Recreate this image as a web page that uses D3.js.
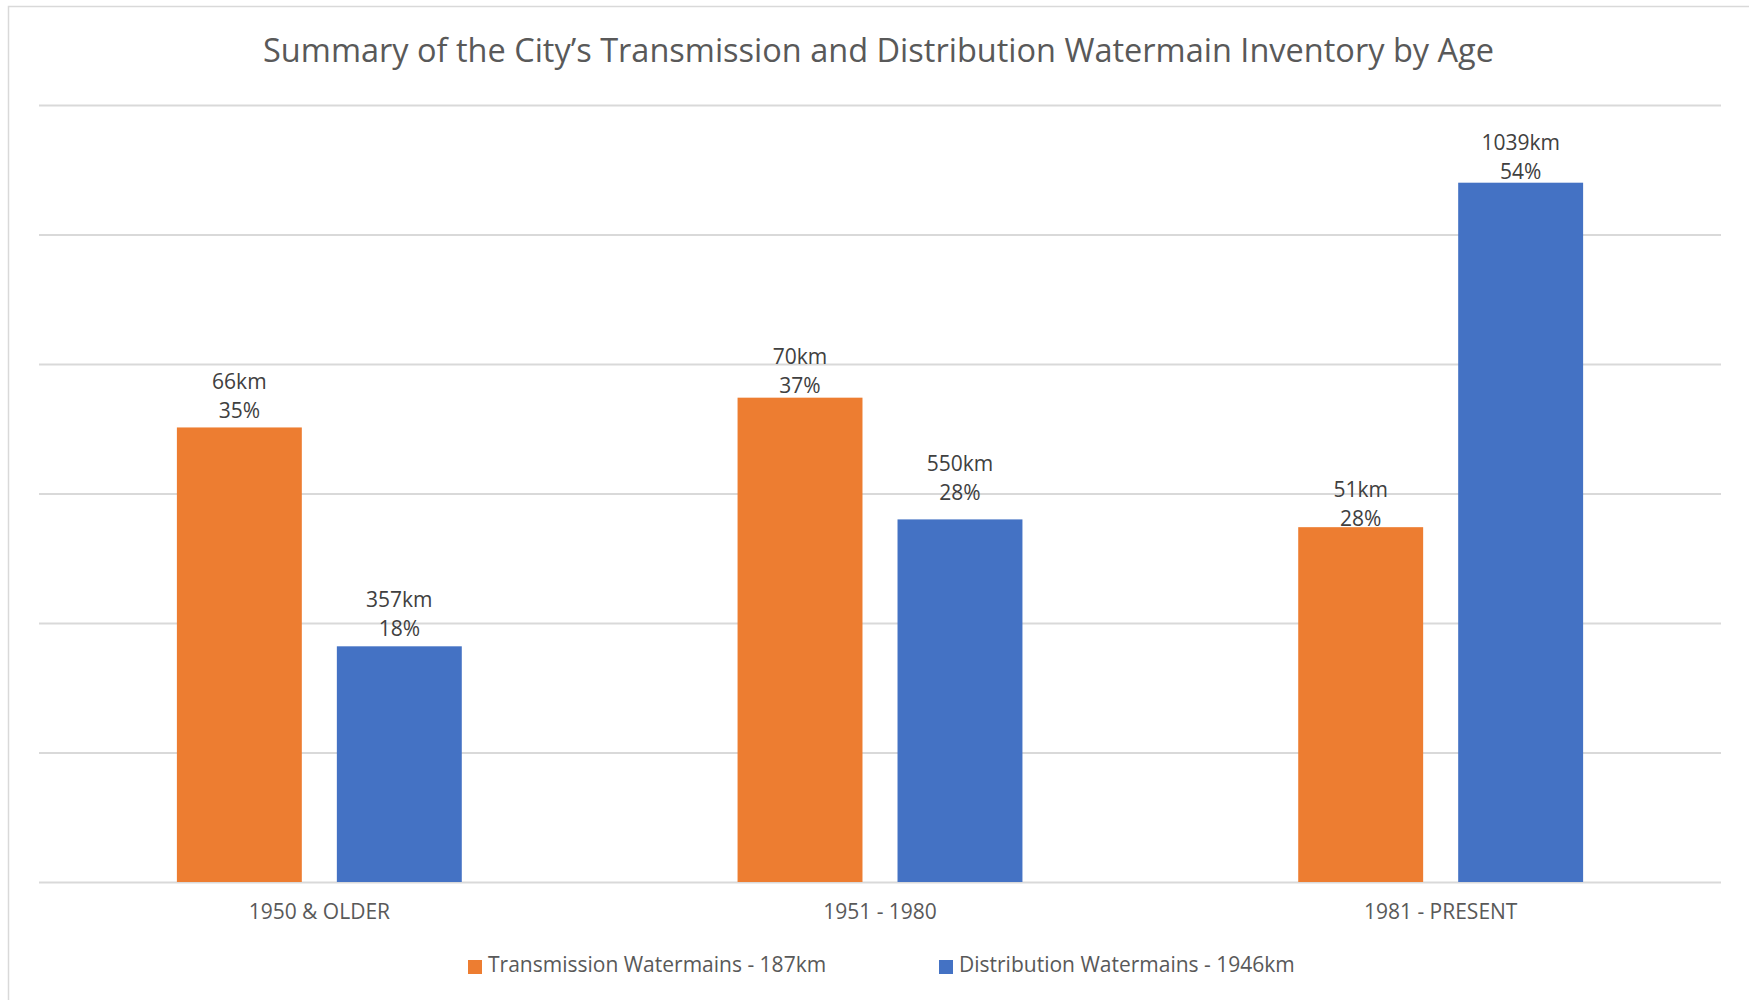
<!DOCTYPE html>
<html>
<head>
<meta charset="utf-8">
<script src="https://cdn.jsdelivr.net/npm/d3@7"></script>
<style>
  body { margin: 0; background: #fff; }
  text { font-family: "Open Sans", sans-serif; }
</style>
</head>
<body>
<div id="chart"></div>
<script>
  const categories = ['1950 & OLDER', '1951 - 1980', '1981 - PRESENT'];
  const seriesNames = ['Transmission Watermains - 187km', 'Distribution Watermains - 1946km'];
  const seriesColors = ['#ED7D31', '#4472C4'];

  // bar heights, percent of each series total
  const transmissionPct = [35.1, 37.4, 27.4];
  const distributionPct = [18.2, 28.0, 54.0];

  // label text as printed on the chart
  const transmissionKm = ['66km', '70km', '51km'];
  const distributionKm = ['357km', '550km', '1039km'];
  const transmissionLbl = ['35%', '37%', '28%'];
  const distributionLbl = ['18%', '28%', '54%'];

  const yTicks = [0, 10, 20, 30, 40, 50, 60];

  const width = 1749;
  const height = 1000;
  const margin = { top: 105, bottom: 118, left: 39, right: 28 };

  // labels were hand-nudged in the original chart (px, + is down)
  const labelNudge = [[0, 4, 8], [-1, -10, 5]];

  const data = [];
  categories.forEach((c, i) => {
    data.push({ cat: c, s: 0, i: i, v: transmissionPct[i], km: transmissionKm[i], pct: transmissionLbl[i] });
    data.push({ cat: c, s: 1, i: i, v: distributionPct[i], km: distributionKm[i], pct: distributionLbl[i] });
  });

  const svg = d3.select('#chart')
    .append('svg')
    .attr('width', width)
    .attr('height', height);

  svg.append('rect')
    .attr('width', width).attr('height', height)
    .attr('fill', '#fff');

  // chart area border (cropped at right and bottom)
  svg.append('rect')
    .attr('x', 8.5).attr('y', 6.5)
    .attr('width', width + 20).attr('height', height + 20)
    .attr('fill', 'none')
    .attr('stroke', '#D9D9D9')
    .attr('stroke-width', 1.5);

  const x0 = d3.scaleBand()
    .domain(categories)
    .range([margin.left, width - margin.right])
    .padding(0);

  const x1 = d3.scaleBand()
    .domain([0, 1])
    .range([0, x0.bandwidth()])
    .paddingInner(0.219)
    .paddingOuter(0.862);

  const y = d3.scaleLinear()
    .domain([0, 60])
    .range([height - margin.bottom, margin.top]);

  // gridlines
  svg.append('g')
    .attr('transform', `translate(${margin.left},0)`)
    .call(d3.axisLeft(y).tickValues(yTicks).tickSize(-(width - margin.left - margin.right)).tickFormat(''))
    .call(g => g.select('.domain').remove())
    .call(g => g.selectAll('.tick line').attr('stroke', '#D9D9D9').attr('stroke-width', 2));

  svg.append('g')
    .selectAll('rect')
    .data(data)
    .join('rect')
      .attr('x', d => x0(d.cat) + x1(d.s))
      .attr('y', d => y(d.v))
      .attr('width', x1.bandwidth())
      .attr('height', d => y(0) - y(d.v))
      .attr('fill', d => seriesColors[d.s]);

  // data labels
  const lbl = svg.append('g')
    .attr('text-anchor', 'middle')
    .attr('font-size', '21px')
    .attr('fill', '#404040');

  const lx = d => x0(d.cat) + x1(d.s) + x1.bandwidth() / 2;
  const ly = d => y(d.v) - 9 + labelNudge[d.s][d.i];

  lbl.selectAll('text.km')
    .data(data)
    .join('text')
      .attr('class', 'km')
      .attr('x', lx)
      .attr('y', d => ly(d) - 29)
      .text(d => d.km);

  lbl.selectAll('text.pct')
    .data(data)
    .join('text')
      .attr('class', 'pct')
      .attr('x', lx)
      .attr('y', ly)
      .text(d => d.pct);

  // x axis
  svg.append('g')
    .attr('transform', `translate(0,${height - margin.bottom})`)
    .call(d3.axisBottom(x0).tickSize(0).tickPadding(22))
    .call(g => g.select('.domain').remove())
    .call(g => g.selectAll('text')
      .attr('font-size', '21px')
      .attr('font-family', '"Open Sans", sans-serif')
      .attr('fill', '#595959'));

  // title
  svg.append('text')
    .attr('x', width / 2 + 4)
    .attr('y', 62)
    .attr('text-anchor', 'middle')
    .attr('font-size', '32.5px')
    .attr('fill', '#595959')
    .text('Summary of the City\u2019s Transmission and Distribution Watermain Inventory by Age');

  // legend
  const legendX = [468, 939];
  const legend = svg.append('g')
    .selectAll('g')
    .data(seriesNames)
    .join('g')
      .attr('transform', (d, i) => `translate(${legendX[i]},960)`);

  legend.append('rect')
    .attr('width', 14).attr('height', 14)
    .attr('fill', (d, i) => seriesColors[i]);

  legend.append('text')
    .attr('x', 20)
    .attr('y', 12)
    .attr('font-size', '21px')
    .attr('fill', '#595959')
    .text(d => d);
</script>
</body>
</html>
